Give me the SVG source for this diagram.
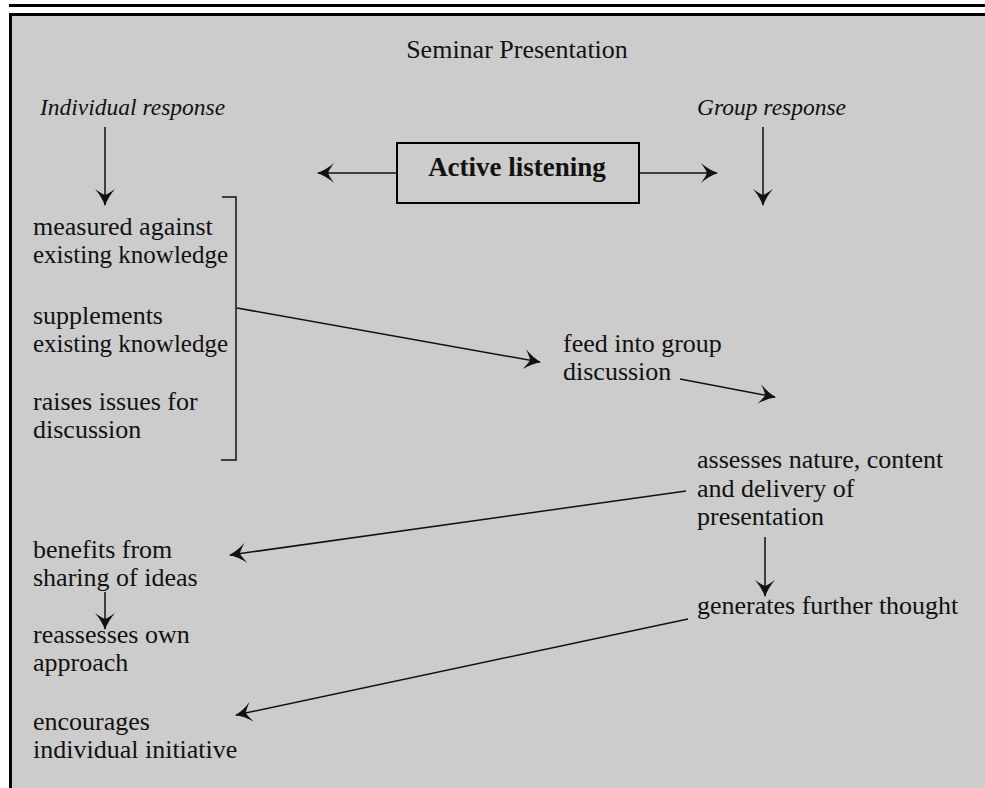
<svg xmlns="http://www.w3.org/2000/svg" width="985" height="788" viewBox="0 0 985 788">
<defs>
<style>
text{font-family:"Liberation Serif","Times New Roman",serif;font-size:26px;fill:#111}
.it{font-style:italic;font-size:23.5px}
.bd{font-weight:bold;font-size:27px}
.ln{stroke:#111;stroke-width:1.5;fill:none}
.arr{marker-end:url(#ah)}
</style>
<marker id="ah" markerUnits="userSpaceOnUse" markerWidth="20" markerHeight="24" viewBox="-18 -12 20 24" refX="0" refY="0" orient="auto">
<path d="M1,0 Q-8,-3 -16,-10 Q-11,-3 -10,0 Q-11,3 -16,10 Q-8,3 1,0 Z" fill="#111"/>
</marker>
</defs>
<rect x="0" y="0" width="985" height="788" fill="#fff"/>
<rect x="9" y="4" width="976" height="3" fill="#000"/>
<rect x="11" y="15" width="974" height="773" fill="#cccccc"/>
<rect x="9" y="13" width="976" height="3" fill="#000"/>
<rect x="9" y="13" width="3" height="775" fill="#000"/>

<g id="title"><text x="517" y="58" text-anchor="middle">Seminar Presentation</text></g>
<g id="individual-response"><text class="it" x="40" y="115">Individual response</text></g>
<g id="group-response"><text class="it" x="697" y="115">Group response</text></g>
<g id="active-listening">
<rect x="397" y="143" width="242" height="60" fill="none" stroke="#000" stroke-width="2"/>
<text class="bd" x="517" y="176" text-anchor="middle">Active listening</text>
</g>
<g id="measured"><text x="33" y="235">measured against</text><text x="33" y="263" textLength="195" lengthAdjust="spacingAndGlyphs">existing knowledge</text></g>
<g id="supplements"><text x="33" y="324">supplements</text><text x="33" y="352" textLength="195" lengthAdjust="spacingAndGlyphs">existing knowledge</text></g>
<g id="raises"><text x="33" y="410">raises issues for</text><text x="33" y="438">discussion</text></g>
<g id="bracket"><path class="ln" d="M222,197 H236 V460 H221"/></g>
<g id="feed"><text x="563" y="352">feed into group</text><text x="563" y="380">discussion</text></g>
<g id="assesses"><text x="697" y="468">assesses nature, content</text><text x="697" y="497">and delivery of</text><text x="697" y="525">presentation</text></g>
<g id="generates"><text x="697" y="614">generates further thought</text></g>
<g id="benefits"><text x="33" y="558">benefits from</text><text x="33" y="586">sharing of ideas</text></g>
<g id="reassesses"><text x="33" y="643">reassesses own</text><text x="33" y="671">approach</text></g>
<g id="encourages"><text x="33" y="730">encourages</text><text x="33" y="758">individual initiative</text></g>

<g id="connectors">
<line class="ln arr" x1="105" y1="127" x2="105" y2="205"/>
<line class="ln arr" x1="763" y1="127" x2="763" y2="205"/>
<line class="ln arr" x1="397" y1="173" x2="318" y2="173"/>
<line class="ln arr" x1="639" y1="173" x2="717" y2="173"/>
<line class="ln arr" x1="237" y1="308" x2="540" y2="362"/>
<line class="ln arr" x1="680" y1="379" x2="775" y2="397"/>
<line class="ln arr" x1="686" y1="491" x2="230" y2="555"/>
<line class="ln arr" x1="765" y1="537" x2="765" y2="596"/>
<line class="ln arr" x1="105" y1="592" x2="105" y2="629"/>
<line class="ln arr" x1="688" y1="619" x2="236" y2="715"/>
</g>
</svg>
